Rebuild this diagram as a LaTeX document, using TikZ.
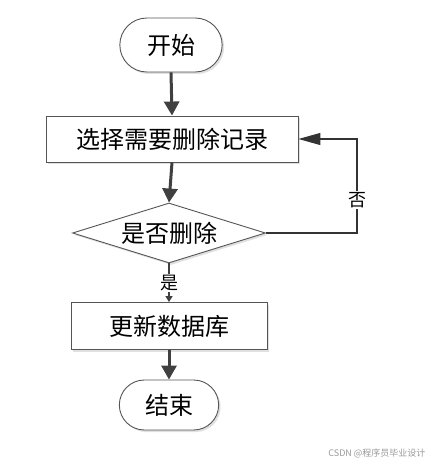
\documentclass[tikz,border=0pt]{standalone}
\usepackage{fontspec}
\newfontfamily\cjk{Noto Sans CJK SC}
\usetikzlibrary{arrows.meta,shapes.geometric,shapes.misc,shadows}
\definecolor{edgegray}{HTML}{404040}
\definecolor{linegray}{HTML}{555555}
\tikzset{
  box/.style={draw=linegray, line width=0.9pt, fill=white, font=\cjk\fontsize{24}{24}\selectfont,
     drop shadow={shadow xshift=2pt, shadow yshift=-2pt, fill=black!12, opacity=1}},
  term/.style={box, rounded rectangle},
  procbox/.style={box, rectangle},
  decbox/.style={box, diamond, aspect=3.2, inner sep=0pt},
  bigarrow/.style={draw=edgegray, line width=3pt, -{Triangle[length=14pt,width=15pt]}},
  smallarrow/.style={draw=edgegray, line width=2pt, -{Triangle[length=6pt,width=7pt]}},
  backline/.style={draw=black!80, line width=1.1pt},
  backarrow/.style={backline, -{Triangle[length=22pt,width=12pt]}},
  lbl/.style={font=\cjk\fontsize{18}{18}\selectfont, inner sep=1pt},
}
\begin{document}
\begin{tikzpicture}[x=1pt,y=-1pt]
\useasboundingbox (0,0) rectangle (433,465);
\node[term, minimum width=109pt, minimum height=54pt] (start) at (171,45) {开始};
\node[procbox, minimum width=252pt, minimum height=46pt] (sel) at (172,139) {选择需要删除记录};
\node[decbox, minimum width=193pt, minimum height=60pt] (dec) at (169,233) {是否删除};
\node[procbox, minimum width=196pt, minimum height=47pt] (upd) at (169,326) {更新数据库};
\node[term, minimum width=106pt, minimum height=50pt] (end) at (169,405) {结束};
\node[lbl] (yes) at (169,283) {是};
\node[lbl] (no) at (357,200) {否};
\coordinate (c1) at (357,233);
\coordinate (c2) at (357,139);
\draw[bigarrow] (start.south) -- (sel.north);
\draw[bigarrow] (sel.south) -- (dec.north);
\draw[draw=edgegray, line width=2pt] (dec.south) -- (yes.north);
\draw[smallarrow] (yes.south) -- (upd.north);
\draw[backline] (dec.east) -- (c1) -- (no.south);
\draw[backarrow] (no.north) -- (c2) -- (sel.east);
\draw[bigarrow] (upd.south) -- (end.north);
\node[font=\cjk\fontsize{9}{9}\selectfont, text=black!40, anchor=east] (wm) at (429,453) {CSDN @程序员毕业设计};
\end{tikzpicture}
\end{document}
